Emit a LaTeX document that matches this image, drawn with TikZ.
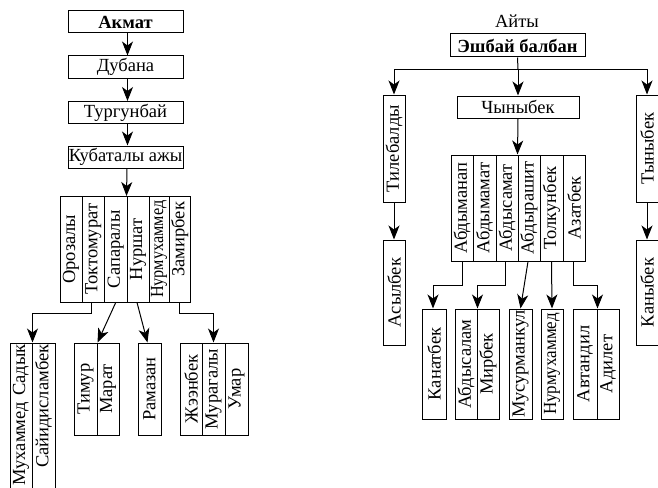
\documentclass[tikz,border=0pt]{standalone}
\usepackage{fontspec}
\setmainfont{Liberation Serif}
\usetikzlibrary{arrows.meta}
\newcommand\dfont{\fontsize{18.5}{21}\selectfont}
\newcommand\narrow[1]{\scalebox{0.88}[1]{#1}}
\tikzset{
  bx/.style={draw, line width=1pt, inner sep=0pt, font=\dfont},
  vb/.style={bx, rotate=90},
  arr/.style={-{Stealth[length=14pt,width=11pt,inset=4pt]}, line width=1pt}
}
\begin{document}
\begin{tikzpicture}[x=1pt,y=-1pt]
\useasboundingbox (0,0) rectangle (658,487);
\clip (0,0) rectangle (658,487);
% ---------- left tree ----------
\node[bx, minimum width=115, minimum height=22] (akmat) at (125.5,22) {\textbf{Акмат}};
\node[bx, minimum width=115, minimum height=22] (dub) at (125.5,67) {Дубана};
\node[bx, minimum width=115, minimum height=22] (turg) at (125.5,112.5) {Тургунбай};
\node[bx, minimum width=115, minimum height=22] (kub) at (125.5,157) {Кубаталы ажы};
\draw[arr] ([xshift=2pt]akmat.south) -- ([xshift=2pt]dub.north);
\draw[arr] ([xshift=2pt]dub.south) -- ([xshift=2pt]turg.north);
\draw[arr] ([xshift=2pt]turg.south) -- ([xshift=2pt]kub.north);
% columns
\node[vb, minimum width=105.5, minimum height=22] (c1) at (71,249.25) {Орозалы};
\node[vb, minimum width=105.5, minimum height=22.5] (c2) at (93.25,249.25) {Токтомурат};
\node[vb, minimum width=105.5, minimum height=22.5] (c3) at (115.75,249.25) {Сапаралы};
\node[vb, minimum width=105.5, minimum height=22] (c4) at (138,249.25) {Нуршат};
\node[vb, minimum width=105.5, minimum height=20] (c5) at (159,249.25) {\narrow{Нурмухаммед}};
\node[vb, minimum height=21.5, text width=94.5, inner xsep=5.5pt, align=right] (c6) at (179.75,249.25) {Замирбек};
\draw[arr] ([xshift=1.5pt]kub.south) -- (c4.north east);
% lower left boxes
\node[vb, minimum height=22, text width=157, inner xsep=1.5pt, align=right] (muh) at (21,423) {Мухаммед Садык};
\node[vb, minimum height=23, text width=157, inner xsep=1.5pt, align=right] (say) at (43.5,423) {Сайидисламбек};
\node[vb, minimum width=92, minimum height=23] (tim) at (85.5,389) {Тимур};
\node[vb, minimum width=92, minimum height=22] (mar) at (108,389) {Марат};
\node[vb, minimum width=92, minimum height=23] (ram) at (149.5,389) {Рамазан};
\node[vb, minimum width=92, minimum height=22] (jeen) at (191,389) {Жээнбек};
\node[vb, minimum width=92, minimum height=23] (murag) at (213.5,389) {Мурагалы};
\node[vb, minimum width=92, minimum height=23] (umar) at (236.5,389) {Умар};
\draw[arr] ([xshift=-2pt]c2.west) -- ++(0,11) -| (muh.south east);
\draw[arr] (c3.west) -- (tim.south east);
\draw[arr] ([xshift=-1pt]c4.west) -- ([xshift=-2pt]ram.east);
\draw[arr] (c6.west) -- ++(0,11) -| (murag.east);
% ---------- right tree ----------
\node[font=\dfont, inner sep=0pt] (aity) at (517,21) {Айты};
\node[bx, minimum width=135, minimum height=23] (esh) at (517.5,45.5) {\textbf{Эшбай балбан}};
\coordinate (br) at (518,69);
\draw[line width=1pt] (esh.south) -- (br);
\node[bx, minimum width=122, minimum height=22] (chy) at (518,107) {Чыныбек};
\node[vb, minimum width=107, minimum height=22] (tile) at (394,148.5) {Тилебалды};
\node[vb, minimum width=107, minimum height=22] (tyny) at (647,148.5) {Тыныбек};
\node[vb, minimum width=105, minimum height=22] (asyl) at (394,292.5) {Асылбек};
\node[vb, minimum width=105, minimum height=22] (kany) at (647,292.5) {Каныбек};
\draw[arr] (br) -| (tile.east);
\draw[arr] (br) -- (chy.north);
\draw[arr] (br) -| (tyny.east);
\draw[arr] (tile.west) -- (asyl.east);
\draw[arr] (tyny.west) -- (kany.east);
% row
\node[vb, minimum width=106, minimum height=22] (r1) at (462,208) {Абдыманап};
\node[vb, minimum width=106, minimum height=23] (r2) at (484.5,208) {Абдымамат};
\node[vb, minimum width=106, minimum height=22] (r3) at (507,208) {Абдысамат};
\node[vb, minimum width=106, minimum height=22] (r4) at (529,208) {Абдырашит};
\node[vb, minimum width=106, minimum height=23] (r5) at (551.5,208) {Толкунбек};
\node[vb, minimum width=106, minimum height=22] (r6) at (574,208) {Азатбек};
\draw[arr] (chy.south) -- (r4.north east);
% lower right boxes
\node[vb, minimum width=110, minimum height=24] (kanat) at (434,364) {Канатбек};
\node[vb, minimum width=110, minimum height=22] (abds) at (466,364) {Абдысалам};
\node[vb, minimum width=110, minimum height=22] (mirb) at (488,364) {Мирбек};
\node[vb, minimum width=110, minimum height=23] (musur) at (520.5,364) {Мусурманкул};
\node[vb, minimum width=110, minimum height=22] (nurm) at (552,364) {\scalebox{0.92}[1]{Нурмухаммед}};
\node[vb, minimum width=110, minimum height=24] (avt) at (585,364) {Автандил};
\node[vb, minimum width=110, minimum height=22] (adil) at (608,364) {Адилет};
\draw[arr] (r1.west) -- ++(0,24) -| ([xshift=-1pt]kanat.east);
\draw[arr] ([xshift=-2pt]r3.west) -- ++(0,24) -| (abds.south east);
\draw[arr] ([xshift=-1pt]r4.west) -- (musur.east);
\draw[arr] (r5.west) -- (nurm.east);
\draw[arr] ([xshift=-1pt]r6.west) -- ++(0,24) -| (avt.south east);
\end{tikzpicture}
\end{document}
